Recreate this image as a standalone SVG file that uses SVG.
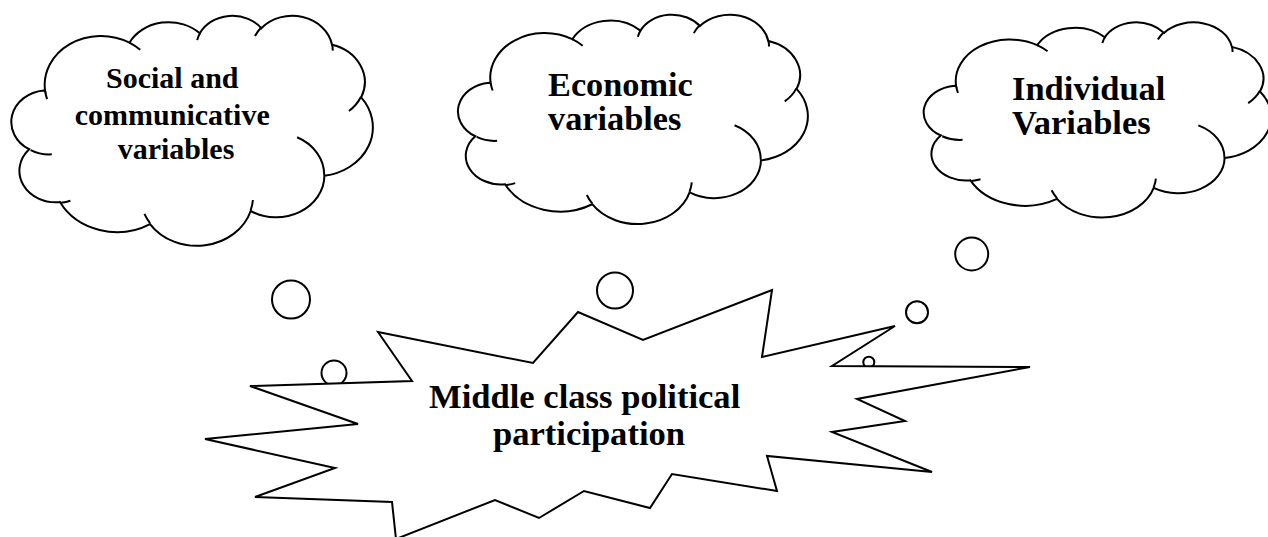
<svg xmlns="http://www.w3.org/2000/svg" xmlns:xlink="http://www.w3.org/1999/xlink" width="1268" height="537" viewBox="0 0 1268 537">
  <style>
    .shape { fill: #ffffff; stroke: #000000; stroke-width: 2; stroke-linejoin: miter; }
    .cloud { fill: #ffffff; stroke: #000000; stroke-width: 2; vector-effect: non-scaling-stroke; }
    .crease { fill: none; stroke: #000000; stroke-width: 2; vector-effect: non-scaling-stroke; }
    .bubble { fill: #ffffff; stroke: #000000; stroke-width: 2; }
    .label { font-family: "Liberation Serif", "Times New Roman", serif; font-weight: bold; fill: #000000; }
  </style>
  <defs>
    <!-- cloud outline in a 43200 x 43200 unit box -->
    <path id="cloud-outline" class="cloud" d="M 3900 14370
      A 6753 9190 0 0 1 14005.5 5202.6
      A 5333 7267 0 0 1 22455.9 3432.2
      A 4365 5945 0 0 1 29833.7 2480.9
      A 4857 6595 0 0 1 38318.1 5577.4
      A 5333 7273 0 0 1 41818.6 15461.2
      A 6775 9220 0 0 1 37404.1 30203.5
      A 5785 7867 0 0 1 28556.1 36814.1
      A 6752 9215 0 0 1 16480.6 39266.2
      A 7720 10543 0 0 1 5672.1 35140.2
      A 4360 5918 0 0 1 1981.0 25218.1
      A 4345 5945 0 0 1 3730.5 14174.2 Z"/>
    <!-- short inner arcs where the puffs overlap -->
    <path id="cloud-creases" class="crease" d="M 4693 26177 A 4345 5945 0 0 1 2160 25380
      M 6928 34899 A 4360 5918 0 0 1 5819 35281
      M 16478 39090 A 6752 9215 0 0 1 15810 37348
      M 28827 34751 A 6752 9215 0 0 1 28560 36660
      M 34129 22954 A 5785 7867 0 0 1 37381 30090
      M 41798 15354 A 5333 7273 0 0 1 40350 18030
      M 38324 5426 A 4857 6595 0 0 1 38400 6690
      M 29078 3952 A 4857 6595 0 0 1 29821 2337
      M 22141 4720 A 4365 5945 0 0 1 22500 3331
      M 14000 5192 A 6753 9190 0 0 1 15300 6541
      M 4127 15789 A 6753 9190 0 0 1 3900 14371"/>
  </defs>

  <!-- cloud: social and communicative variables -->
  <g id="cloud-social">
    <g transform="translate(12.7,15) scale(0.0083333,0.0053241)">
      <use xlink:href="#cloud-outline" href="#cloud-outline"/>
      <use xlink:href="#cloud-creases" href="#cloud-creases"/>
    </g>
    <text class="label" font-size="30" text-anchor="middle">
      <tspan x="176" y="88">Social and</tspan>
      <tspan x="176" y="125">communicative</tspan>
      <tspan x="176" y="159">variables</tspan>
    </text>
  </g>

  <!-- cloud: economic variables -->
  <g id="cloud-economic">
    <g transform="translate(459.3,14) scale(0.0080648,0.0048449)">
      <use xlink:href="#cloud-outline" href="#cloud-outline"/>
      <use xlink:href="#cloud-creases" href="#cloud-creases"/>
    </g>
    <text class="label" font-size="34.3">
      <tspan x="548" y="96">Economic</tspan>
      <tspan x="548" y="130">variables</tspan>
    </text>
  </g>

  <!-- cloud: individual variables -->
  <g id="cloud-individual">
    <g transform="translate(925,21.7) scale(0.0080093,0.0045139)">
      <use xlink:href="#cloud-outline" href="#cloud-outline"/>
      <use xlink:href="#cloud-creases" href="#cloud-creases"/>
    </g>
    <text class="label" font-size="34.5">
      <tspan x="1012" y="99.5">Individual</tspan>
      <tspan x="1012" y="133.5">Variables</tspan>
    </text>
  </g>

  <!-- thought bubbles trailing from the clouds to the burst -->
  <g id="connectors">
    <circle class="bubble" cx="291" cy="299.5" r="19"/>
    <circle class="bubble" cx="334" cy="373" r="12.5"/>
    <circle class="bubble" cx="615" cy="290.5" r="18"/>
    <circle class="bubble" cx="971.7" cy="254" r="16.5"/>
    <circle class="bubble" cx="917" cy="312.3" r="11"/>
    <circle class="bubble" cx="868.8" cy="362.2" r="5.5"/>
  </g>

  <!-- burst: middle class political participation -->
  <g id="burst-participation">
    <polygon class="shape" points="378,332 533,363 578,312 643,340 772,290 762,357 895,326 832,366 1030,367 857,399 905,421 832,432 932,472 767,456 777,491 672,474 650,508 584,491 539,518 495,500 396,539 392,502 255,497 335,468 205,439 358,424 250,386 412,381"/>
    <text class="label" font-size="34.6" text-anchor="middle">
      <tspan x="589" y="407.5">Middle class political</tspan>
      <tspan x="589" y="445">participation</tspan>
    </text>
  </g>
</svg>
